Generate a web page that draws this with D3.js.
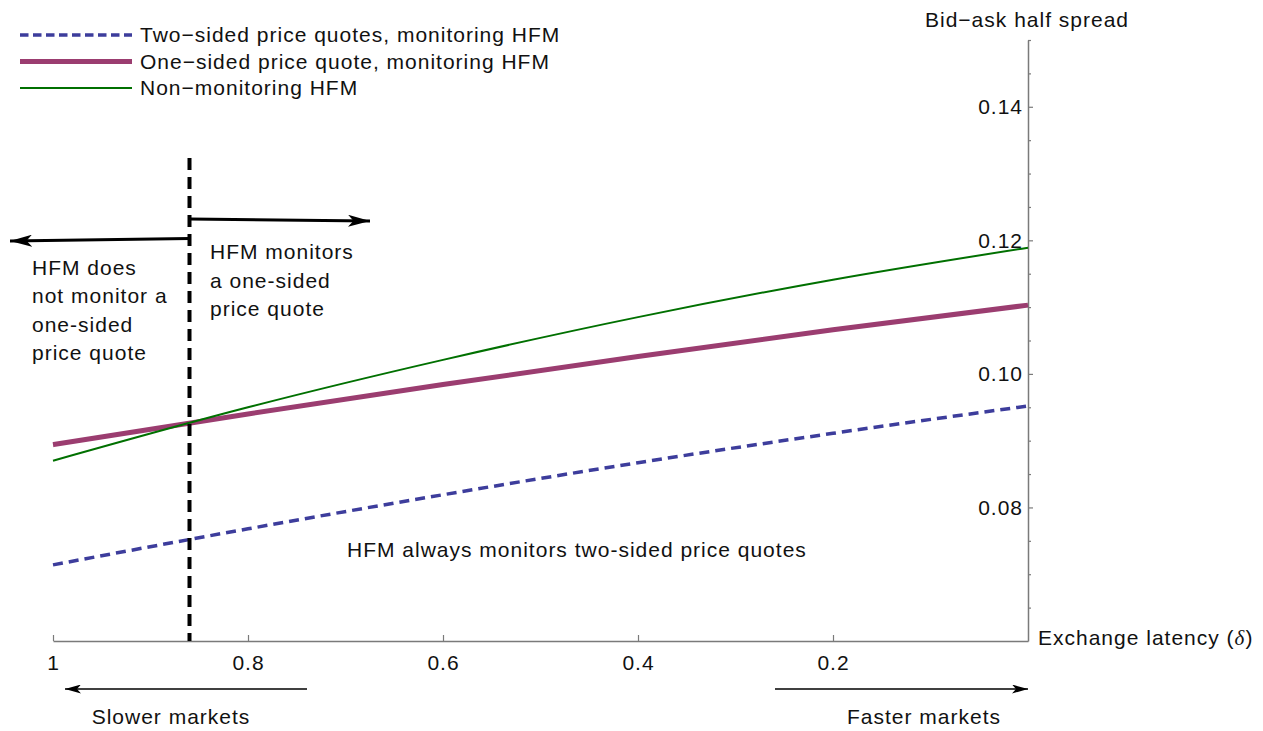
<!DOCTYPE html>
<html>
<head>
<meta charset="utf-8">
<script src="https://cdn.jsdelivr.net/npm/d3@7"></script>
<style>
  body { margin: 0; background: #fff; }
  svg text { font-family: "Liberation Sans", Arial, sans-serif; font-size: 21px; letter-spacing: 1px; fill: #111; }
</style>
</head>
<body>
<svg width="1263" height="731"></svg>
<script>
// exchange latency (delta) and half spreads
var latency = [1, 0.8, 0.6, 0.4, 0.2, 0];
var twoSided = [0.0714, 0.0768, 0.0819, 0.0867, 0.0911, 0.0952];
var oneSided = [0.0894, 0.0940, 0.0984, 0.1026, 0.1066, 0.1103];
var nonMonitoring = [0.0870, 0.0950, 0.1021, 0.1085, 0.1141, 0.1189];
var threshold = 0.86;

var xTicks = [1, 0.8, 0.6, 0.4, 0.2];
var yTicks = [0.08, 0.10, 0.12, 0.14];
var yMinorTicks = [0.065, 0.07, 0.075, 0.085, 0.09, 0.095, 0.105, 0.11, 0.115,
                   0.125, 0.13, 0.135, 0.145, 0.15];

var seriesNames = ["Two\u2212sided price quotes, monitoring HFM",
                   "One\u2212sided price quote, monitoring HFM",
                   "Non\u2212monitoring HFM"];


var svg = d3.select("svg");

var x = d3.scaleLinear().domain([1, 0]).range([53, 1028]);
var y = d3.scaleLinear().domain([0.06, 0.15]).range([641, 40]);

var axisColor = "#7a7a7a";

// arrow heads
var defs = svg.append("defs");
function head(id, len, wid) {
    defs.append("marker")
        .attr("id", id)
        .attr("viewBox", "0 0 " + len + " " + wid)
        .attr("refX", len).attr("refY", wid / 2)
        .attr("markerWidth", len).attr("markerHeight", wid)
        .attr("markerUnits", "userSpaceOnUse")
        .attr("orient", "auto")
      .append("path")
        .attr("d", "M0,0L" + len + "," + (wid / 2) + "L0," + wid + "L" + (len * 0.25) + "," + (wid / 2) + "Z")
        .attr("fill", "#000");
}
head("bigHead", 22, 12);
head("smallHead", 16, 9);


// x axis
var xAxis = svg.append("g")
    .attr("transform", "translate(0," + y(0.06) + ")")
    .call(d3.axisBottom(x).tickValues(xTicks).tickFormat(d3.format("")).tickSize(-6).tickSizeOuter(0).tickPadding(14));

// y axis, ticks inside on the right of the line
var yAxis = svg.append("g")
    .attr("transform", "translate(" + x(0) + ",0)")
    .call(d3.axisLeft(y).tickValues(yTicks).tickFormat(d3.format(".2f")).tickSize(-5).tickSizeOuter(0).tickPadding(5));

var yMinor = svg.append("g")
    .attr("transform", "translate(" + x(0) + ",0)")
    .call(d3.axisLeft(y).tickValues(yMinorTicks).tickFormat("").tickSize(-3).tickSizeOuter(0));
yMinor.select(".domain").remove();

svg.selectAll(".domain").attr("stroke", axisColor).attr("stroke-width", 1.5);
svg.selectAll(".tick line").attr("stroke", axisColor).attr("stroke-width", 1.2);
svg.selectAll(".tick text").attr("font-family", null).attr("font-size", null).attr("fill", "#111");

svg.append("text")
    .attr("x", 925).attr("y", 27)
    .text("Bid\u2212ask half spread");

var xLabel = svg.append("text")
    .attr("x", 1038).attr("y", 645);
xLabel.append("tspan").text("Exchange latency (");
xLabel.append("tspan")
    .style("font-family", "Liberation Serif, Times New Roman, serif")
    .style("font-style", "italic")
    .text("\u03b4");
xLabel.append("tspan").text(")");


// series
var line = d3.line()
    .x(function(d) { return x(d[0]); })
    .y(function(d) { return y(d[1]); })
    .curve(d3.curveMonotoneX);

var series = [
    {values: twoSided, color: "#3d3d9c", width: 3.5, dash: "10,6"},
    {values: oneSided, color: "#9b3d70", width: 5, dash: null},
    {values: nonMonitoring, color: "#007000", width: 2, dash: null}
];

svg.append("g")
  .selectAll("path")
  .data([series[1], series[2], series[0]])
  .enter().append("path")
    .attr("d", function(s) { return line(d3.zip(latency, s.values)); })
    .attr("fill", "none")
    .attr("stroke", function(s) { return s.color; })
    .attr("stroke-width", function(s) { return s.width; })
    .attr("stroke-dasharray", function(s) { return s.dash; });


// threshold where the HFM starts monitoring a one-sided quote
var tx = x(threshold);
svg.append("line")
    .attr("x1", tx).attr("x2", tx)
    .attr("y1", 158).attr("y2", y(0.06))
    .attr("stroke", "#000").attr("stroke-width", 4)
    .attr("stroke-dasharray", "12,7");

svg.append("line")
    .attr("x1", tx).attr("y1", 238.5).attr("x2", 10).attr("y2", 241)
    .attr("stroke", "#000").attr("stroke-width", 3)
    .attr("marker-end", "url(#bigHead)");
svg.append("line")
    .attr("x1", tx).attr("y1", 219).attr("x2", 370).attr("y2", 221)
    .attr("stroke", "#000").attr("stroke-width", 3)
    .attr("marker-end", "url(#bigHead)");

function block(lines, x0, y0, dy) {
    var t = svg.append("text").attr("x", x0).attr("y", y0);
    lines.forEach(function(s, i) {
        t.append("tspan").attr("x", x0).attr("y", y0 + i * dy).text(s);
    });
}
block(["HFM does", "not monitor a", "one-sided", "price quote"], 32, 275, 28.3);
block(["HFM monitors", "a one-sided", "price quote"], 210, 259, 28.7);

svg.append("text")
    .attr("x", 347).attr("y", 557)
    .text("HFM always monitors two-sided price quotes");


// slower / faster
svg.append("line")
    .attr("x1", 307).attr("y1", 689).attr("x2", 65).attr("y2", 689)
    .attr("stroke", "#000").attr("stroke-width", 1.3)
    .attr("marker-end", "url(#smallHead)");
svg.append("line")
    .attr("x1", 775).attr("y1", 689).attr("x2", 1028).attr("y2", 689)
    .attr("stroke", "#000").attr("stroke-width", 1.3)
    .attr("marker-end", "url(#smallHead)");

svg.append("text").attr("x", 171).attr("y", 724).attr("text-anchor", "middle").text("Slower markets");
svg.append("text").attr("x", 924).attr("y", 724).attr("text-anchor", "middle").text("Faster markets");


// legend
var legend = svg.append("g")
  .selectAll("g")
  .data(series)
  .enter().append("g")
    .attr("transform", function(d, i) { return "translate(20," + (35 + i * 26.5) + ")"; });

legend.append("line")
    .attr("x1", 0).attr("x2", 112)
    .attr("stroke", function(s) { return s.color; })
    .attr("stroke-width", function(s) { return s.width; })
    .attr("stroke-dasharray", function(s) { return s.dash ? "8.5,4.5" : null; });

legend.append("text")
    .attr("x", 120).attr("y", 7)
    .text(function(d, i) { return seriesNames[i]; });
</script>
</body>
</html>
